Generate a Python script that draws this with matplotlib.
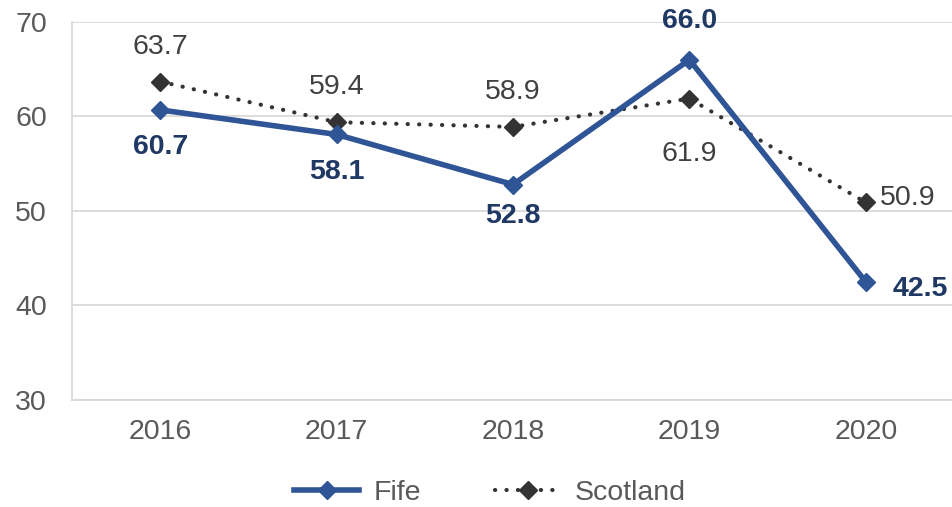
import matplotlib
matplotlib.use("Agg")
import matplotlib.pyplot as plt
from matplotlib.lines import Line2D

years = ["2016", "2017", "2018", "2019", "2020"]
fife = [60.7, 58.1, 52.8, 66.0, 42.5]
scotland = [63.7, 59.4, 58.9, 61.9, 50.9]
yticks = [30, 40, 50, 60, 70]

plt.rcParams['font.family'] = ['Liberation Sans', 'DejaVu Sans']

fig = plt.figure(figsize=(9.52, 5.07), dpi=100)
ax = fig.add_axes([72/952, 107/507, 882/952, 378/507])

x = list(range(len(years)))
fife_col = "#2F5597"
scot_col = "#333333"
dots = (0, (0.05, 2.7))

ax.plot(x, scotland, color=scot_col, lw=3.0, linestyle=dots,
        dash_capstyle='round', marker='D', markersize=9.5, zorder=3)
ax.plot(x, fife, color=fife_col, lw=4.0, marker='D', markersize=9.5, zorder=4)

fs = 20.5
# Fife labels
fife_off = [(0, -37), (0, -38), (0, -31), (0, 39), (55, -7)]
for i, v in enumerate(fife):
    dx, dy = fife_off[i]
    ax.annotate(f"{v:.1f}", (i, v), xytext=(dx, dy), textcoords='offset pixels',
                ha='center', va='center', fontsize=fs, fontweight='bold',
                color="#1F3864", zorder=5)

scot_off = [(0, 35), (0, 35), (0, 35), (0, -55), (42, 4)]
for i, v in enumerate(scotland):
    dx, dy = scot_off[i]
    ax.annotate(f"{v:.1f}", (i, v), xytext=(dx, dy), textcoords='offset pixels',
                ha='center', va='center', fontsize=fs, color="#404040", zorder=5)

ax.set_xlim(-0.5, 4.5)
ax.set_ylim(30, 70)
ax.set_yticks(yticks)
ax.set_xticks(x)
ax.set_xticklabels(years)
ax.tick_params(axis='both', length=0, labelsize=fs, labelcolor="#595959")
ax.tick_params(axis='y', pad=18)
ax.tick_params(axis='x', pad=14)
ax.yaxis.grid(True, color="#D9D9D9", lw=1.3)
ax.set_axisbelow(True)
for s in ['top', 'right']:
    ax.spines[s].set_visible(False)
for s in ['left', 'bottom']:
    ax.spines[s].set_color("#D9D9D9")
    ax.spines[s].set_linewidth(1.3)

handles = [
    Line2D([], [], color=fife_col, lw=4.0, marker='D', markersize=9.5),
    Line2D([], [], color=scot_col, lw=3.0, linestyle=dots,
           dash_capstyle='round', marker='D', markersize=9.5),
]
fig.legend(handles, ["Fife", "Scotland"], loc='center', bbox_to_anchor=(490/952, 14/507),
           ncol=2, frameon=False, fontsize=fs, labelcolor="#595959",
           handlelength=2.3, columnspacing=2.6, handletextpad=0.5)

fig.savefig("out.png", dpi=100)
